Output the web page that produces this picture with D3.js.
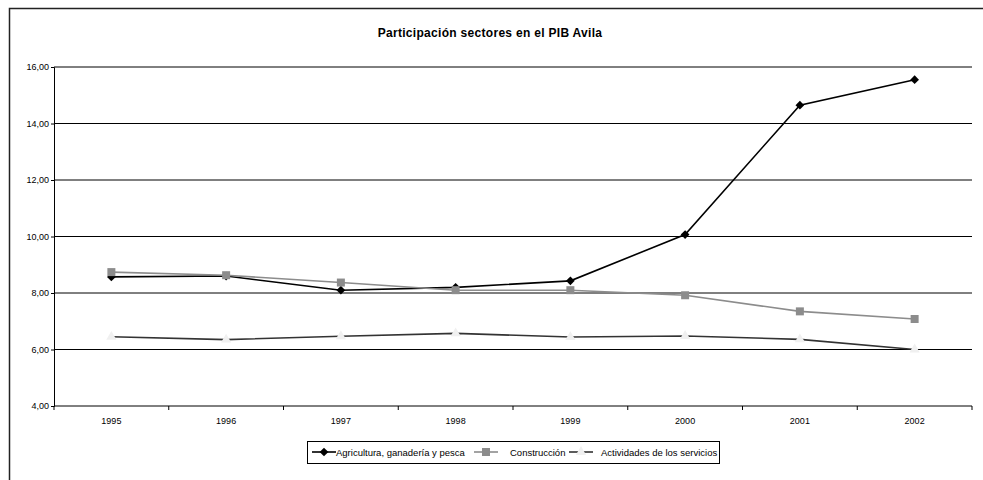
<!DOCTYPE html>
<html lang="es">
<head>
<meta charset="utf-8">
<title>Participación sectores en el PIB Avila</title>
<script src="https://d3js.org/d3.v7.min.js"></script>
<style>
    body { margin: 0; background: #fff; }
    svg text { font-family: "Liberation Sans", Arial, sans-serif; fill: #000; }
</style>
</head>
<body>
<div id="chart"></div>
<script>
"use strict";
var years = ["1995", "1996", "1997", "1998", "1999", "2000", "2001", "2002"];
var agricultura = [8.57, 8.60, 8.10, 8.20, 8.43, 10.07, 14.65, 15.55];
var construccion = [8.74, 8.63, 8.37, 8.10, 8.10, 7.92, 7.35, 7.08];
var servicios = [6.45, 6.35, 6.47, 6.57, 6.44, 6.48, 6.36, 6.00];
var yTicks = [4, 6, 8, 10, 12, 14, 16];

var seriesNames = ["Agricultura, ganadería y pesca", "Construcción", "Actividades de los servicios"];

var svgW = 983, svgH = 480;
var plotLeft = 54, plotRight = 972, plotTop = 67, plotBottom = 406;

var svg = d3.select("#chart").append("svg")
    .attr("width", svgW)
    .attr("height", svgH);

// outer frame (cut off at the right and bottom)
svg.append("rect")
    .attr("x", 9.5).attr("y", 8.5)
    .attr("width", 1000).attr("height", 500)
    .attr("fill", "none")
    .attr("stroke", "#222")
    .attr("stroke-width", 1.5);

svg.append("text")
    .attr("x", 490).attr("y", 37)
    .attr("text-anchor", "middle")
    .style("font-size", "12px")
    .style("font-weight", "bold")
    .style("letter-spacing", "0.3px")
    .text("Participación sectores en el PIB Avila");

var x = d3.scaleBand().domain(years).range([plotLeft, plotRight]);
var y = d3.scaleLinear().domain([4, 16]).range([plotBottom, plotTop]);

// grid lines
svg.append("g").selectAll("line")
    .data(yTicks.filter(function(d) { return d > 4; }))
    .enter().append("line")
    .attr("x1", plotLeft).attr("x2", plotRight)
    .attr("y1", function(d) { return y(d); })
    .attr("y2", function(d) { return y(d); })
    .attr("stroke", "#000")
    .attr("stroke-width", 1);

var yAxis = d3.axisLeft(y).tickValues(yTicks).tickSize(3).tickPadding(2)
    .tickFormat(function(d) { return d3.format(".2f")(d).replace(".", ","); });
var gy = svg.append("g").attr("transform", "translate(" + plotLeft + ",0)").call(yAxis);
gy.select(".domain").attr("stroke", "#000");
gy.selectAll("text").style("font-size", "9px").attr("fill", "#000");

var xAxis = d3.axisBottom(x).tickSize(0).tickPadding(12);
var gx = svg.append("g").attr("transform", "translate(0," + plotBottom + ")").call(xAxis);
gx.select(".domain").attr("stroke", "#000").attr("d", "M" + plotLeft + ",0H" + plotRight);
gx.selectAll("text").style("font-size", "9px").attr("fill", "#000");
// tick marks at the category boundaries
gx.selectAll("line.sep")
    .data(years.concat(["end"]))
    .enter().append("line")
    .attr("class", "sep")
    .attr("x1", function(d, i) { return plotLeft + i * x.step(); })
    .attr("x2", function(d, i) { return plotLeft + i * x.step(); })
    .attr("y1", 0).attr("y2", 4)
    .attr("stroke", "#000");

var cx = function(d, i) { return x(years[i]) + x.bandwidth() / 2; };
var line = d3.line().x(cx).y(function(d) { return y(d); });

var series = [
    { name: seriesNames[0], values: agricultura, color: "#000", marker: d3.symbolSquare, rot: 45, fill: "#000", size: 38 },
    { name: seriesNames[1], values: construccion, color: "#8c8c8c", marker: d3.symbolSquare, rot: 0, fill: "#8c8c8c", size: 64 },
    { name: seriesNames[2], values: servicios, color: "#333", marker: d3.symbolTriangle, rot: 0, fill: "#f0f0f0", size: 45 }
];

series.forEach(function(s) {
    svg.append("path")
        .datum(s.values)
        .attr("d", line)
        .attr("fill", "none")
        .attr("stroke", s.color)
        .attr("stroke-width", 1.6);
    svg.append("g").selectAll("path")
        .data(s.values)
        .enter().append("path")
        .attr("d", d3.symbol().type(s.marker).size(s.size))
        .attr("transform", function(d, i) {
            return "translate(" + cx(d, i) + "," + y(d) + ") rotate(" + s.rot + ")";
        })
        .attr("fill", s.fill);
});

// legend
var lg = svg.append("g").attr("transform", "translate(307,441)");
lg.append("rect")
    .attr("x", 0.5).attr("y", 0.5)
    .attr("width", 412).attr("height", 22)
    .attr("fill", "#fff")
    .attr("stroke", "#000");
var lineX = [5, 167, 262];
var textX = [29, 203, 294];
series.forEach(function(s, i) {
    var g = lg.append("g").attr("transform", "translate(" + lineX[i] + ",11)");
    g.append("line").attr("x1", 0).attr("x2", 24).attr("y1", 0).attr("y2", 0)
        .attr("stroke", s.color).attr("stroke-width", 1.6);
    g.append("path")
        .attr("d", d3.symbol().type(s.marker).size(s.size))
        .attr("transform", "translate(12,0) rotate(" + s.rot + ")")
        .attr("fill", s.fill);
    lg.append("text")
        .attr("x", textX[i]).attr("y", 14.5)
        .style("font-size", "9.5px")
        .text(s.name);
});
</script>
</body>
</html>
